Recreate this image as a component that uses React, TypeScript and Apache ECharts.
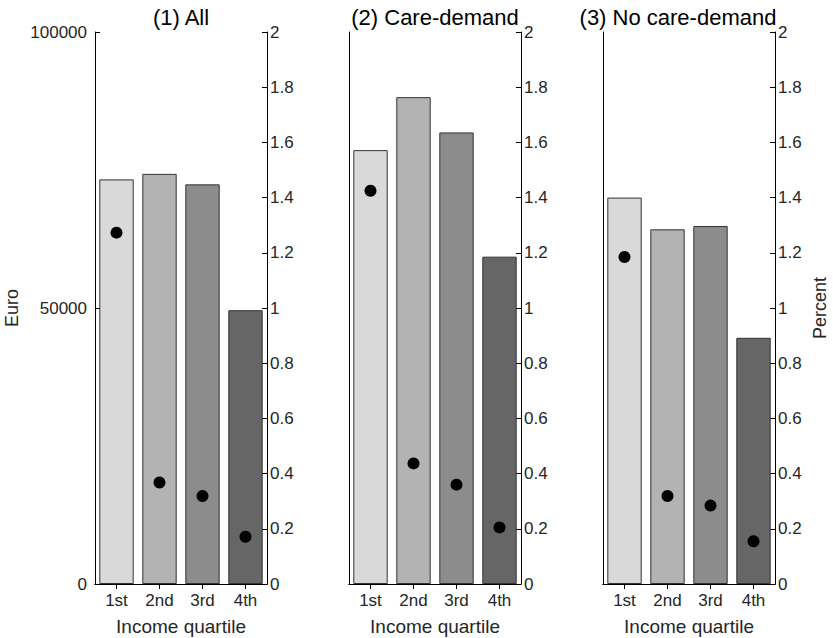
import React, { useEffect, useRef } from "react";
import * as echarts from "echarts";

// Income quartiles on the category axis
const quartiles = ["1st", "2nd", "3rd", "4th"];

// Panel titles
const panelTitles = ["(1) All", "(2) Care-demand", "(3) No care-demand"];

// Bars: amount in euro per quartile
const euroAll = [73300, 74300, 72400, 49600];
const euroCare = [78600, 88200, 81800, 59300];
const euroNoCare = [70000, 64250, 64850, 44600];

// Dots: percent per quartile
const pctAll = [1.273, 0.368, 0.319, 0.171];
const pctCare = [1.425, 0.437, 0.36, 0.205];
const pctNoCare = [1.185, 0.319, 0.284, 0.155];

// Bar fills from light to dark
const barColors = ["#d9d9d9", "#b3b3b3", "#8c8c8c", "#666666"];

const euroSeries = [euroAll, euroCare, euroNoCare];
const pctSeries = [pctAll, pctCare, pctNoCare];

const FONT = "Liberation Sans, Arial, Helvetica, sans-serif";
const TEXT = "#262626";

export default function App() {
  const ref = useRef<HTMLDivElement>(null);

  useEffect(() => {
    if (!ref.current) return;
    const chart = echarts.init(ref.current, undefined, { renderer: "svg" });

    const gridLefts = [95, 349, 603];
    const gridW = 172;
    const gridTop = 32;
    const gridH = 552;
    // the last title is nudged left so it stays clear of the "2" tick label
    const titleShift = [0, 0, -11];

    const grid: any[] = [];
    const xAxis: any[] = [];
    const yAxis: any[] = [];
    const series: any[] = [];
    const title: any[] = [];

    const lineStyle = { color: "#000", width: 1 };

    gridLefts.forEach((left, i) => {
      grid.push({
        left,
        top: gridTop,
        width: gridW,
        height: gridH,
        containLabel: false,
        outerBoundsMode: "none",
      });

      title.push({
        text: panelTitles[i],
        left: left + gridW / 2 + titleShift[i],
        top: 8,
        padding: 0,
        textAlign: "center",
        textStyle: {
          fontFamily: FONT,
          fontSize: 22,
          lineHeight: 18,
          fontWeight: "normal",
          color: "#000",
        },
      });

      // bottom category axis
      xAxis.push({
        type: "category",
        gridIndex: i,
        data: quartiles,
        position: "bottom",
        axisLine: { show: true, lineStyle },
        axisTick: { show: true, inside: true, length: 5, alignWithLabel: true, lineStyle },
        axisLabel: { fontFamily: FONT, fontSize: 17, color: TEXT, margin: 8 },
        name: "Income quartile",
        nameLocation: "middle",
        nameGap: 33,
        nameTextStyle: { fontFamily: FONT, fontSize: 19, color: TEXT },
      });
      // top mirror axis with ticks only
      xAxis.push({
        type: "category",
        gridIndex: i,
        data: quartiles,
        position: "top",
        axisLine: { show: true, lineStyle },
        axisTick: { show: true, inside: true, length: 5, alignWithLabel: true, lineStyle },
        axisLabel: { show: false },
      });

      // left euro axis
      yAxis.push({
        type: "value",
        gridIndex: i,
        position: "left",
        min: 0,
        max: 100000,
        interval: 50000,
        splitLine: { show: false },
        axisLine: { show: true, lineStyle },
        axisTick: { show: i === 0, inside: true, length: 5, lineStyle },
        axisLabel: {
          show: i === 0,
          fontFamily: FONT,
          fontSize: 17,
          color: TEXT,
          margin: 8,
          formatter: (v: number) => String(v),
        },
        name: i === 0 ? "Euro" : "",
        nameLocation: "middle",
        nameGap: 74,
        nameTextStyle: { fontFamily: FONT, fontSize: 18, color: TEXT },
      });
      // right percent axis
      yAxis.push({
        type: "value",
        gridIndex: i,
        position: "right",
        min: 0,
        max: 2,
        interval: 0.2,
        splitLine: { show: false },
        axisLine: { show: true, lineStyle },
        axisTick: { show: true, inside: true, length: 5, lineStyle },
        axisLabel: {
          fontFamily: FONT,
          fontSize: 17,
          lineHeight: 14,
          color: TEXT,
          margin: 3,
          formatter: (v: number) => String(Number(v.toFixed(1))),
        },
        name: i === 2 ? "Percent" : "",
        nameLocation: "middle",
        nameGap: 36,
        nameRotate: 90,
        nameTextStyle: { fontFamily: FONT, fontSize: 18, color: TEXT },
      });

      series.push({
        type: "bar",
        xAxisIndex: 2 * i,
        yAxisIndex: 2 * i,
        barWidth: "80%",
        data: euroSeries[i].map((v, k) => ({
          value: v,
          itemStyle: { color: barColors[k], borderColor: "#333", borderWidth: 1 },
        })),
      });
      series.push({
        type: "scatter",
        xAxisIndex: 2 * i,
        yAxisIndex: 2 * i + 1,
        symbol: "circle",
        symbolSize: 12,
        itemStyle: { color: "#000", opacity: 1 },
        data: pctSeries[i],
        z: 5,
      });
    });

    chart.setOption({
      animation: false,
      backgroundColor: "#fff",
      textStyle: { fontFamily: FONT },
      title,
      grid,
      xAxis,
      yAxis,
      series,
    });

    return () => chart.dispose();
  }, []);

  return <div ref={ref} style={{ width: 833, height: 638, position: "absolute", left: 0, top: 0 }} />;
}
